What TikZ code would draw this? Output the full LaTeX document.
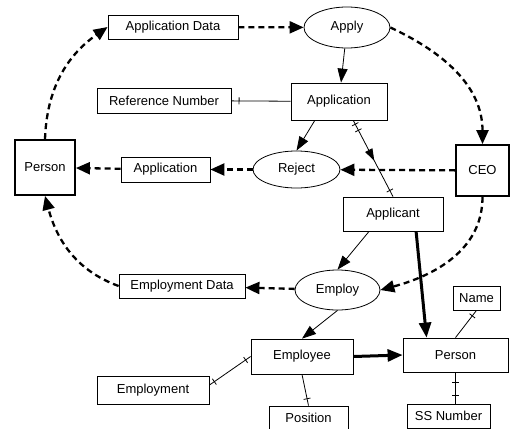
\documentclass[tikz,border=0pt]{standalone}
\usepackage{fontspec}
\setmainfont{Liberation Sans}
\usetikzlibrary{arrows.meta, shapes.geometric, decorations.markings}

\begin{document}
\begin{tikzpicture}[x=1pt, y=-1pt, font=\fontsize{13}{15}\selectfont,
  >={Triangle[length=14pt, width=12pt]},
  box/.style={draw, line width=0.8pt, inner sep=0pt},
  oval/.style={draw, ellipse, line width=0.8pt, inner sep=0pt},
  wh/.style 2 args={minimum width=#1pt, minimum height=#2pt},
  flow/.style={->, line width=2.3pt, dash pattern=on 6pt off 4pt},
  ctrl/.style={-{Triangle[length=14pt, width=10pt]}, line width=0.8pt},
  heavy/.style={-{Triangle[length=15pt, width=12pt]}, line width=3pt},
  link/.style={line width=0.8pt},
  tickat/.style={postaction={decorate, decoration={markings,
    mark=at position #1 with {\draw[line width=0.8pt] (0,-3.5pt) -- (0,3.5pt);}}}},
  midarrow/.style={postaction={decorate, decoration={markings,
    mark=at position #1 with {\arrow{Triangle[length=12pt, width=8pt]}}}}}]

\useasboundingbox (0,0) rectangle (510,428);

\node[box, wh={130}{24}] (appdata) at (173,27) {Application Data};
\node[oval, wh={86}{41}] (apply) at (347,27.5) {Apply};
\node[box, wh={96}{37}] (application) at (339,101.5) {Application};
\node[box, wh={134}{25}] (refnum) at (164,100.5) {Reference Number};
\node[box, line width=1.8pt, wh={60}{55}] (personL) at (45,167.5) {Person};
\node[box, wh={89}{25}] (appL) at (165.5,169.5) {Application};
\node[oval, wh={87}{37}] (reject) at (296.5,169.5) {Reject};
\node[box, line width=1.8pt, wh={53}{51}] (ceo) at (482.5,170.5) {CEO};
\node[box, wh={100}{34}] (applicant) at (393,214) {Applicant};
\node[oval, wh={85}{40}] (employ) at (337.5,290) {Employ};
\node[box, wh={126}{24}] (empdata) at (182,286) {Employment Data};
\node[box, wh={47}{24}] (name) at (476.5,298) {Name};
\node[box, wh={105}{34}] (personR) at (455.5,355) {Person};
\node[box, wh={102}{35}] (employee) at (302,356.5) {Employee};
\node[box, wh={112}{28}] (employment) at (153,390) {Employment};
\node[box, wh={79}{24}] (position) at (308.5,418) {Position};
\node[box, wh={83}{24}] (ssnum) at (448.5,416) {SS Number};

\draw[flow] (appdata) -- (apply);
\draw[flow] (personL.north) to[out=88, in=215] (appdata.west);
\draw[flow] (apply.east) to[out=-25, in=90] (ceo.north);
\draw[flow] (ceo) -- (reject);
\draw[flow] (reject) -- (appL);
\draw[flow] (appL) -- (personL);
\draw[flow] (ceo.south) to[out=-90, in=15] (employ.east);
\draw[flow] (employ) -- (empdata);
\draw[flow] (empdata.west) to[out=160, in=-75] (personL.south);

\draw[ctrl] (apply) -- (application);
\draw[link, tickat=0.13] (refnum) -- (application);
\draw[ctrl] (application.218) -- (reject.north);
\draw[link, tickat=0.05, tickat=0.13, tickat=0.92, midarrow=0.53] (application.307) -- (applicant.north);
\draw[ctrl] (applicant.216) -- (employ.north);
\draw[heavy] (applicant.323) -- (personR.149);
\draw[ctrl] (employ.south) -- (employee.north);
\draw[heavy] (employee.east) -- (personR.west);
\draw[link, tickat=0.12, tickat=0.88] (employment.5) -- (employee.west);
\draw[link, tickat=0.78] (employee.south) -- (position.north);
\draw[link, tickat=0.8] (personR.north) -- (name.south);
\draw[link, tickat=0.31, tickat=0.75] (personR.south) -- (personR.south |- ssnum.north);

\end{tikzpicture}
\end{document}
